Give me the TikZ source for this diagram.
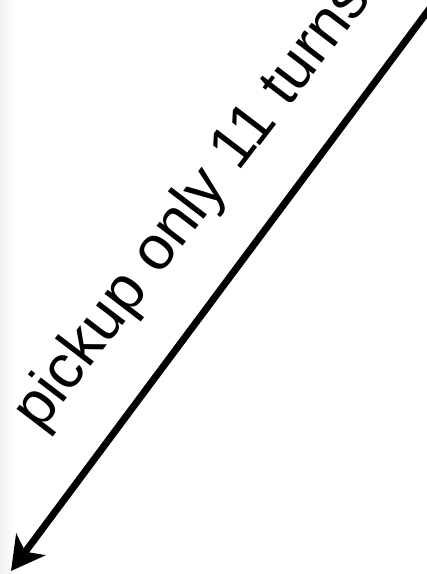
\documentclass[tikz,border=0pt]{standalone}
\usepackage{fontspec}
\setmainfont{Liberation Sans}
\usetikzlibrary{arrows.meta}

\begin{document}
\begin{tikzpicture}[x=1pt,y=-1pt]
\useasboundingbox (0,0) rectangle (427,574);
\shade[left color=gray!12,right color=white] (0,0) rectangle (14,574);% faint edge

\coordinate (T) at (445,-12);
\coordinate (B) at (11,571);
\draw[line width=7pt,-{Stealth[length=33pt,width=36pt,inset=9pt]}] (T)--(B);

\node[anchor=base west,inner sep=0pt,rotate=52.6,
font=\fontsize{62}{74}\selectfont] (lbl) at (40,433) {pickup only 11 turns};

\end{tikzpicture}
\end{document}
